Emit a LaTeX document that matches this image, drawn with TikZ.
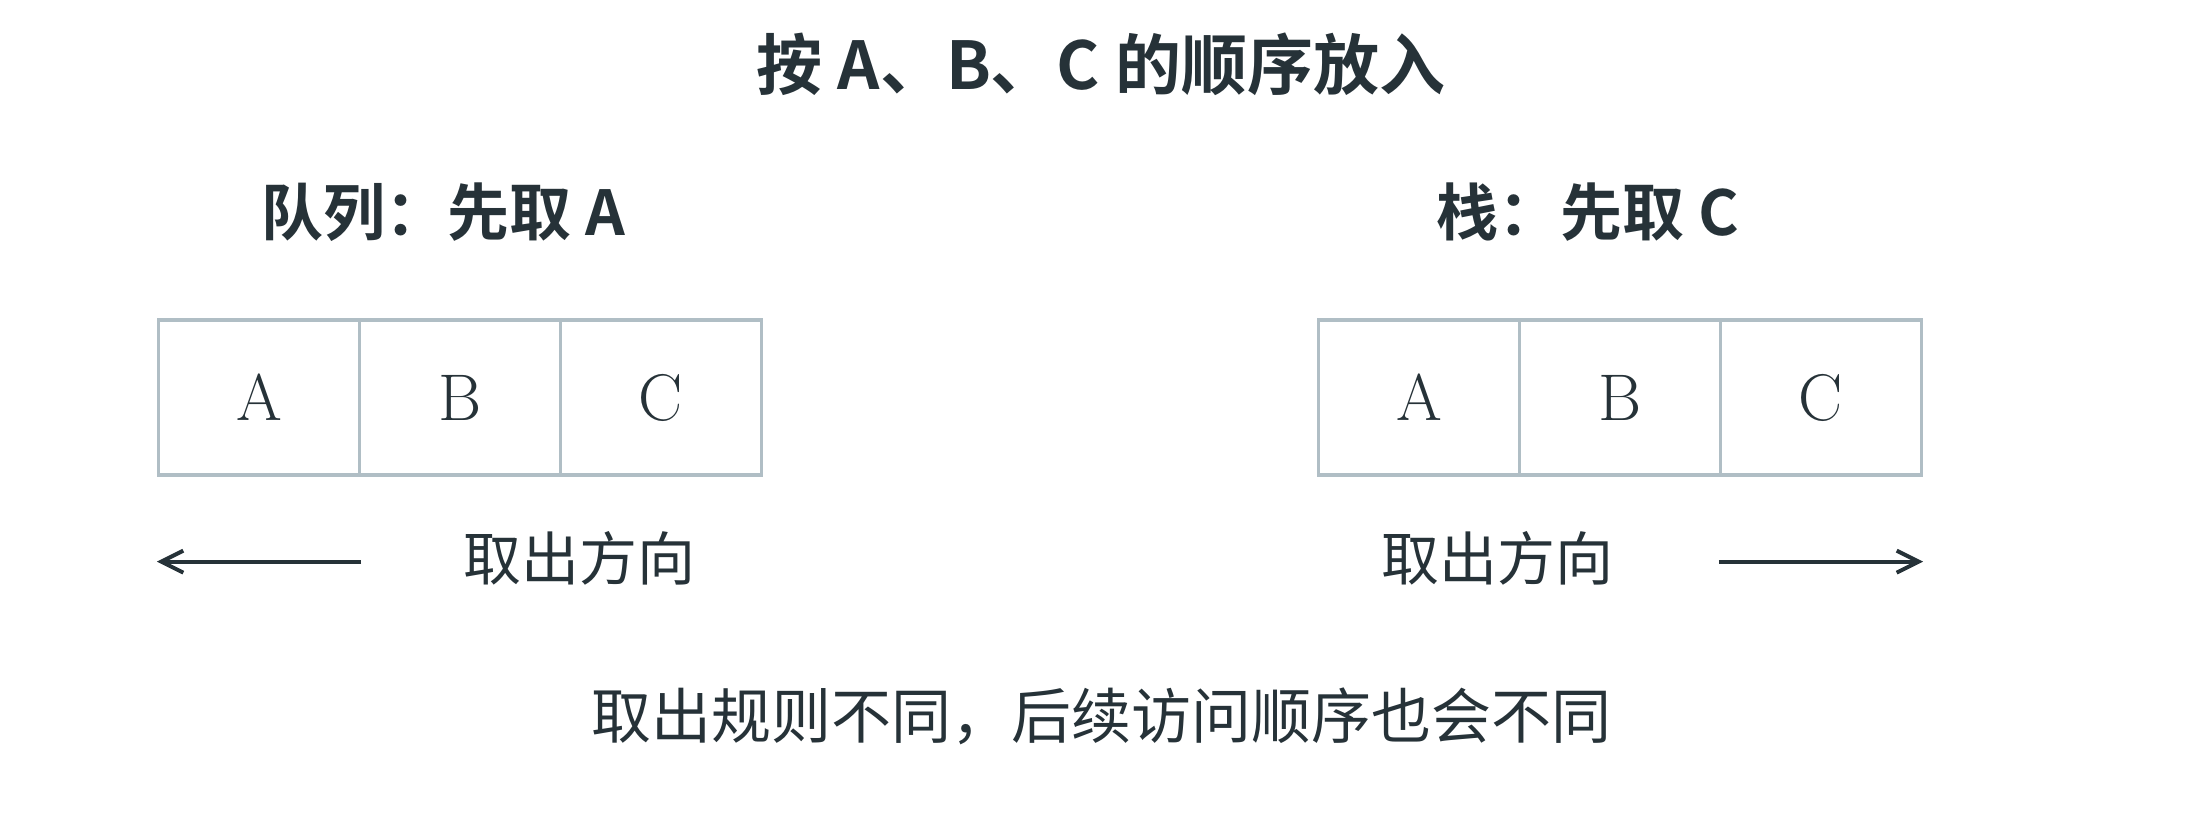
\documentclass[tikz,border=0pt]{standalone}
\usepackage{fontspec}
\newfontfamily\cjk{Noto Sans CJK SC}[BoldFont={Noto Sans CJK SC Bold}]
\usetikzlibrary{matrix,positioning,arrows.meta}
\definecolor{inkdark}{HTML}{263238}
\definecolor{cellline}{HTML}{B0BEC5}
\tikzset{
  cellrow/.style={matrix of nodes,
        nodes={draw=cellline,line width=1.65pt,minimum width=100.5pt,minimum height=77.5pt,
               inner sep=0pt,text height=23pt,text depth=0pt,anchor=center,
               text=inkdark,font=\fontsize{33}{40}\selectfont},%cell box and letter
        column sep=-1.65pt},%borders share one line
  heading/.style={text=inkdark,font=\cjk\bfseries\fontsize{31}{38}\selectfont},
  note/.style={text=inkdark,font=\cjk\fontsize{29}{35}\selectfont},
  takeout/.style={draw=inkdark,line width=2pt,-{Straight Barb[length=11pt,width=11pt]}}
}
\begin{document}
\begin{tikzpicture}[x=0.5pt,y=-0.5pt]
\useasboundingbox (0,0) rectangle (2200,820);
\node[heading,font=\cjk\bfseries\fontsize{33}{40}\selectfont] (title) at (1101,64) {按 A、B、C 的顺序放入};
% queue
\node[heading] (qhead) at (443,212) {队列：先取 A};
\matrix[cellrow] (qmat) at (460,397.5) {
A & B & C \\
};
\coordinate[below=42.5pt of qmat-1-1.south east] (qfrom);
\coordinate[below=42.5pt of qmat-1-1.south west] (qto);
\draw[takeout] (qfrom) -- (qto);
\node[note] (qnote) at (579,558) {取出方向};
% stack
\node[heading] (shead) at (1588,212) {栈：先取 C};
\matrix[cellrow] (smat) at (1620,397.5) {
A & B & C \\
};
\coordinate[below=42.5pt of smat-1-3.south west] (sfrom);
\coordinate[below=42.5pt of smat-1-3.south east] (sto);
\draw[takeout] (sfrom) -- (sto);
\node[note] (snote) at (1497,558) {取出方向};
\node[note,font=\cjk\fontsize{30}{36}\selectfont] (summary) at (1101,716) {取出规则不同，后续访问顺序也会不同};
\end{tikzpicture}
\end{document}
